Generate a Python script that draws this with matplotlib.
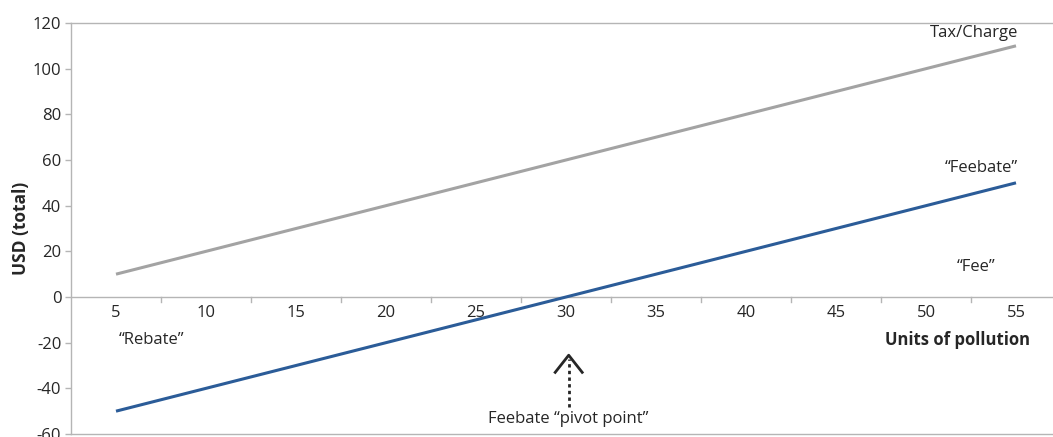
import matplotlib.pyplot as plt

# Data
units = [5, 10, 15, 20, 25, 30, 35, 40, 45, 50, 55]
tax_charge = [10, 20, 30, 40, 50, 60, 70, 80, 90, 100, 110]
feebate = [-50, -40, -30, -20, -10, 0, 10, 20, 30, 40, 50]
y_ticks = [-60, -40, -20, 0, 20, 40, 60, 80, 100, 120]

GRAY_LINE = '#a3a3a3'
BLUE_LINE = '#2b5c98'
AXIS_COLOR = '#b5b5b5'
TEXT_COLOR = '#262626'
FS = 12

plt.rcParams['font.family'] = ['Open Sans', 'DejaVu Sans']
plt.rcParams['axes.unicode_minus'] = False

fig = plt.figure(figsize=(10.53, 4.37), dpi=100)
W, H = 1053, 437
# plot area runs slightly past the right edge of the picture, like the original
ax = fig.add_axes([71 / W, 3 / H, (1061 - 71) / W, (434 - 23) / H])

ax.plot(units, tax_charge, color=GRAY_LINE, linewidth=2.2, solid_capstyle='butt')
ax.plot(units, feebate, color=BLUE_LINE, linewidth=2.2, solid_capstyle='butt')

ax.set_xlim(2.5, 57.5)
ax.set_ylim(-60, 120)
ax.set_yticks(y_ticks)
ax.tick_params(axis='y', labelsize=FS, colors=AXIS_COLOR, labelcolor=TEXT_COLOR,
               length=4, width=1, pad=3)

# category axis drawn on the zero line
ax.set_xticks([])
ax.axhline(0, color=AXIS_COLOR, linewidth=1, zorder=1)
for u in units[:-1]:
    ax.plot([u + 2.5, u + 2.5], [0, -2], color=AXIS_COLOR, linewidth=1, zorder=1)
for u in units:
    ax.text(u, -3.5, str(u), ha='center', va='top', fontsize=FS, color=TEXT_COLOR)

for side in ['top', 'bottom', 'left']:
    ax.spines[side].set_color(AXIS_COLOR)
    ax.spines[side].set_linewidth(1)
ax.spines['right'].set_visible(False)

ax.set_ylabel('USD (total)', fontsize=12.5, fontweight='bold', color=TEXT_COLOR, labelpad=2)

# annotations
ax.text(55.1, 112, 'Tax/Charge', ha='right', va='bottom', fontsize=FS, color=TEXT_COLOR)
ax.text(55.1, 53, '\u201cFeebate\u201d', ha='right', va='bottom', fontsize=FS, color=TEXT_COLOR)
ax.text(52.8, 13, '\u201cFee\u201d', ha='center', va='center', fontsize=FS, color=TEXT_COLOR)
ax.text(7.0, -19, '\u201cRebate\u201d', ha='center', va='center', fontsize=FS, color=TEXT_COLOR)
ax.text(55.8, -19, 'Units of pollution', ha='right', va='center', fontsize=FS,
        fontweight='bold', color=TEXT_COLOR)
ax.text(30.1, -53.5, 'Feebate \u201cpivot point\u201d', ha='center', va='center', fontsize=FS,
        color=TEXT_COLOR)

# dotted pivot arrow
ax.plot([30.15, 30.15], [-48, -27], color=TEXT_COLOR, linewidth=2, linestyle=(0, (1.2, 1.2)))
ax.plot([29.4, 30.15, 30.9], [-33, -25.5, -33], color=TEXT_COLOR, linewidth=2)

fig.savefig('out.png', dpi=100)
